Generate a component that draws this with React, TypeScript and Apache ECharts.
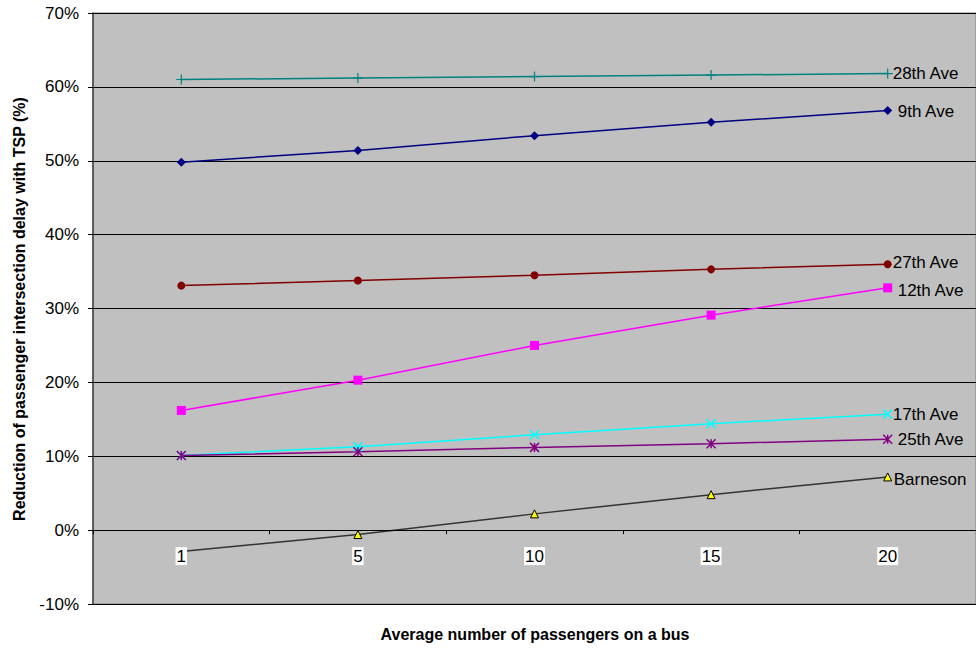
import React, { useEffect, useRef } from "react";
import * as echarts from "echarts";

const categories = ["1", "5", "10", "15", "20"];
const seriesNames = ["28th Ave", "9th Ave", "27th Ave", "12th Ave", "17th Ave", "25th Ave", "Barneson"];
const ave28 = [61.0, 61.2, 61.4, 61.6, 61.8];
const ave9 = [49.8, 51.4, 53.4, 55.2, 56.8];
const ave27 = [33.1, 33.8, 34.5, 35.3, 36.0];
const ave12 = [16.2, 20.3, 25.0, 29.1, 32.8];
const ave17 = [10.1, 11.3, 12.9, 14.4, 15.7];
const ave25 = [10.1, 10.6, 11.2, 11.7, 12.3];
const barneson = [-2.9, -0.6, 2.2, 4.8, 7.2];
const yTicks = { min: -10, max: 70, step: 10 };

const values = [ave28, ave9, ave27, ave12, ave17, ave25, barneson];

const PLUS = "path://M5,0 L5,10 M0,5 L10,5";
const CROSS = "path://M0,0 L10,10 M10,0 L0,10";
const STAR = "path://M0,0 L10,10 M10,0 L0,10 M5,0 L5,10";

const styles = [
  { line: "#008080", symbol: PLUS, size: 10, fill: "#008080", border: "#008080", bw: 1.2, dist: 5, dy: 0 },
  { line: "#000080", symbol: "diamond", size: 9, fill: "#000080", border: "#000080", bw: 0, dist: 10, dy: 1 },
  { line: "#800000", symbol: "circle", size: 8, fill: "#800000", border: "#800000", bw: 0, dist: 5, dy: -2 },
  { line: "#ff00ff", symbol: "rect", size: 9, fill: "#ff00ff", border: "#ff00ff", bw: 0, dist: 10, dy: 3 },
  { line: "#00ffff", symbol: CROSS, size: 9, fill: "#00ffff", border: "#00ffff", bw: 1.5, dist: 5, dy: 0 },
  { line: "#800080", symbol: STAR, size: 9, fill: "#800080", border: "#800080", bw: 1.5, dist: 10, dy: 0 },
  { line: "#333333", symbol: "triangle", size: 8, fill: "#ffff00", border: "#000000", bw: 1, dist: 6, dy: 3 },
];

export default function App() {
  const ref = useRef<HTMLDivElement>(null);
  useEffect(() => {
    if (!ref.current) return;
    const chart = echarts.init(ref.current, undefined, { renderer: "svg" });
    const font = "Arial, 'Liberation Sans', sans-serif";
    const gridTop = 13;
    const gridBottom = 44;
    const plotH = 648 - gridTop - gridBottom;
    const zeroOffset = -plotH * ((0 - yTicks.min) / (yTicks.max - yTicks.min));
    chart.setOption({
      animation: false,
      textStyle: { fontFamily: font },
      grid: {
        left: 93,
        right: 0,
        top: gridTop,
        bottom: gridBottom,
        show: true,
        backgroundColor: "#c0c0c0",
        borderColor: "#808080",
        borderWidth: 1,
      },
      xAxis: {
        type: "category",
        data: categories,
        boundaryGap: true,
        position: "bottom",
        offset: zeroOffset,
        z: 5,
        axisLine: { onZero: false, lineStyle: { color: "#000", width: 1 } },
        axisTick: { show: true, length: 4, inside: false, lineStyle: { color: "#000" } },
        axisLabel: {
          fontSize: 17,
          color: "#000",
          fontFamily: font,
          margin: 17,
          backgroundColor: "#fff",
          padding: [1, 1, 0, 1],
        },
        splitLine: { show: false },
      },
      yAxis: {
        type: "value",
        min: yTicks.min,
        max: yTicks.max,
        interval: yTicks.step,
        axisLine: { show: true, onZero: false, lineStyle: { color: "#404040", width: 1.5 } },
        axisTick: { show: true, length: 5, lineStyle: { color: "#000" } },
        axisLabel: { fontSize: 17, color: "#000", fontFamily: font, margin: 14, formatter: "{value}%" },
        splitLine: { show: true, lineStyle: { color: "#000", width: 1 } },
      },
      graphic: [
        {
          type: "text",
          x: 535,
          y: 634,
          style: {
            text: "Average number of passengers on a bus",
            font: `bold 16px ${font}`,
            fill: "#000",
            align: "center",
            verticalAlign: "middle",
          },
        },
        {
          type: "text",
          x: 19,
          y: 309,
          rotation: Math.PI / 2,
          style: {
            text: "Reduction of passenger intersection delay with TSP (%)",
            font: `bold 16px ${font}`,
            fill: "#000",
            align: "center",
            verticalAlign: "middle",
          },
        },
      ],
      series: seriesNames.map((name, i) => {
        const s = styles[i];
        return {
          name,
          type: "line",
          data: values[i],
          symbol: s.symbol,
          symbolSize: s.size,
          showAllSymbol: true,
          lineStyle: { color: s.line, width: 1.5 },
          itemStyle: { color: s.fill, borderColor: s.border, borderWidth: s.bw },
          endLabel: {
            show: true,
            formatter: name,
            distance: s.dist,
            offset: [0, s.dy],
            fontSize: 17,
            color: "#000",
            fontFamily: font,
          },
          z: 3,
        };
      }),
    });
    return () => chart.dispose();
  }, []);
  return (
    <div
      ref={ref}
      style={{ position: "fixed", left: 0, top: 0, width: 976, height: 648, background: "#fff" }}
    />
  );
}
